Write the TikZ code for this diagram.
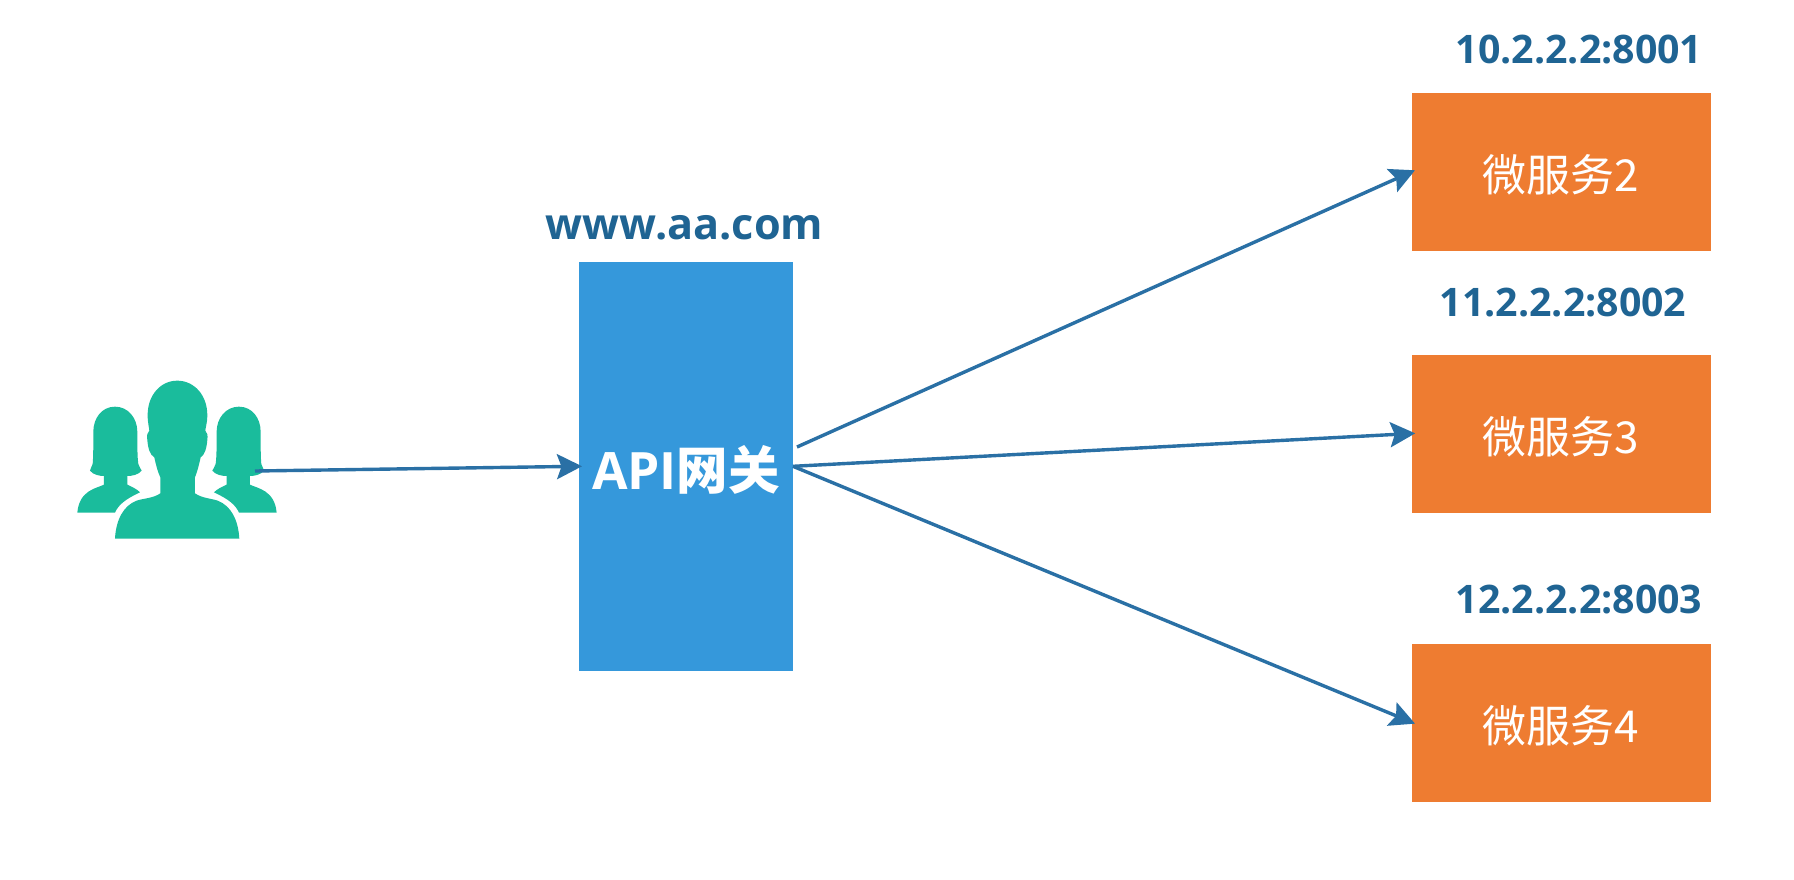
\documentclass[tikz,border=0pt]{standalone}
\usepackage{fontspec}
\setmainfont{Open Sans}
\newfontfamily\cjkfont{Noto Sans CJK SC}
\usetikzlibrary{arrows.meta}
\definecolor{gwblue}{HTML}{3598DB}
\definecolor{svcorange}{HTML}{EE7C31}
\definecolor{linkblue}{HTML}{2A70A5}
\definecolor{labelblue}{HTML}{1F6493}
\definecolor{peoplegreen}{HTML}{1ABC9C}
\tikzset{
  x=1pt,y=-1pt,
  gwbox/.style={fill=gwblue,draw=none,minimum width=214pt,minimum height=409.5pt,inner sep=0pt,outer sep=0pt},
  svcbox/.style={fill=svcorange,draw=none,minimum width=298.5pt,minimum height=158pt,inner sep=0pt,outer sep=0pt},
  addr/.style={text=labelblue,inner sep=0pt,anchor=base,font=\fontsize{39.3}{44}\selectfont\bfseries},
  link/.style={draw=linkblue,line width=3.4pt,shorten >=-3pt,-{Stealth[length=25pt,width=25pt,inset=4.5pt]}},
  svctext/.style={text=white,font=\fontsize{44}{50}\selectfont\cjkfont},
}
\begin{document}
\begin{tikzpicture}
\useasboundingbox (0,0) rectangle (1794,879);
\fill[white] (0,0) rectangle (1794,879);
% people icon
\begin{scope}[shift={(40,340)},x=0.3333pt,y=-0.3333pt,fill=peoplegreen]
  \def\sideperson{
    (225,200) .. controls (185,200) and (160,235) .. (160,275)
    .. controls (160,320) and (160,350) .. (158,372)
    .. controls (156,382) and (150,385) .. (150,392)
    .. controls (160,405) and (180,408) .. (192,408)
    -- (192,434) .. controls (170,445) and (118,450) .. (112,518)
    -- (225,518) .. controls (235,495) and (255,478) .. (300,457)
    .. controls (292,448) and (275,440) .. (262,434)
    -- (262,408) .. controls (275,408) and (295,405) .. (305,392)
    .. controls (303,385) and (297,382) .. (295,372)
    .. controls (292,350) and (292,320) .. (292,275)
    .. controls (292,235) and (265,200) .. (225,200) -- cycle
  }
  \fill \sideperson;
  \begin{scope}[xscale=-1,shift={(-822,0)}]
    \fill \sideperson;
  \end{scope}
  \fill (412,122) .. controls (362,122) and (323,165) .. (323,225)
    .. controls (323,250) and (328,265) .. (328,272)
    .. controls (322,278) and (320,285) .. (322,300)
    .. controls (324,325) and (330,345) .. (343,352)
    .. controls (348,375) and (353,395) .. (361,412)
    -- (361,460) .. controls (340,475) and (310,475) .. (290,482)
    .. controls (250,497) and (228,540) .. (225,596)
    -- (598,596) .. controls (595,540) and (573,497) .. (533,482)
    .. controls (513,475) and (487,475) .. (465,460)
    -- (465,412) .. controls (472,395) and (477,375) .. (482,352)
    .. controls (494,345) and (500,325) .. (502,300)
    .. controls (504,285) and (502,278) .. (496,272)
    .. controls (496,265) and (502,250) .. (502,225)
    .. controls (502,165) and (462,122) .. (412,122) -- cycle;
\end{scope}
\coordinate (usersend) at (255,471);
\node[gwbox] (gw) at (686,466.3) {};
\node[text=white,inner sep=0pt,font=\fontsize{51.5}{58}\selectfont\bfseries] (gwtext) at (686,470) {API{\cjkfont 网关}};
\coordinate (gwupper) at (797,447);
\node[svcbox] (s2) at (1561.5,171.5) {};
\node[svcbox] (s3) at (1561.5,433.5) {};
\node[svcbox] (s4) at (1561.5,722.5) {};
\node[svctext] (t2) at (1560.5,175) {微服务2};
\node[svctext] (t3) at (1560.5,437) {微服务3};
\node[svctext] (t4) at (1560.5,726) {微服务4};
\node[addr,font=\fontsize{43.2}{48}\selectfont\bfseries] (lgw) at (684.5,239) {www.aa.com};
\node[addr] (l2) at (1579,63) {10.2.2.2:8001};
\node[addr] (l3) at (1563,316) {11.2.2.2:8002};
\node[addr] (l4) at (1579,613) {12.2.2.2:8003};
\draw[link] (usersend) -- (gw.west);
\draw[link] (gwupper) -- (s2.west);
\draw[link] (gw.east) -- (s3.west);
\draw[link] (gw.east) -- (s4.west);
\end{tikzpicture}
\end{document}
